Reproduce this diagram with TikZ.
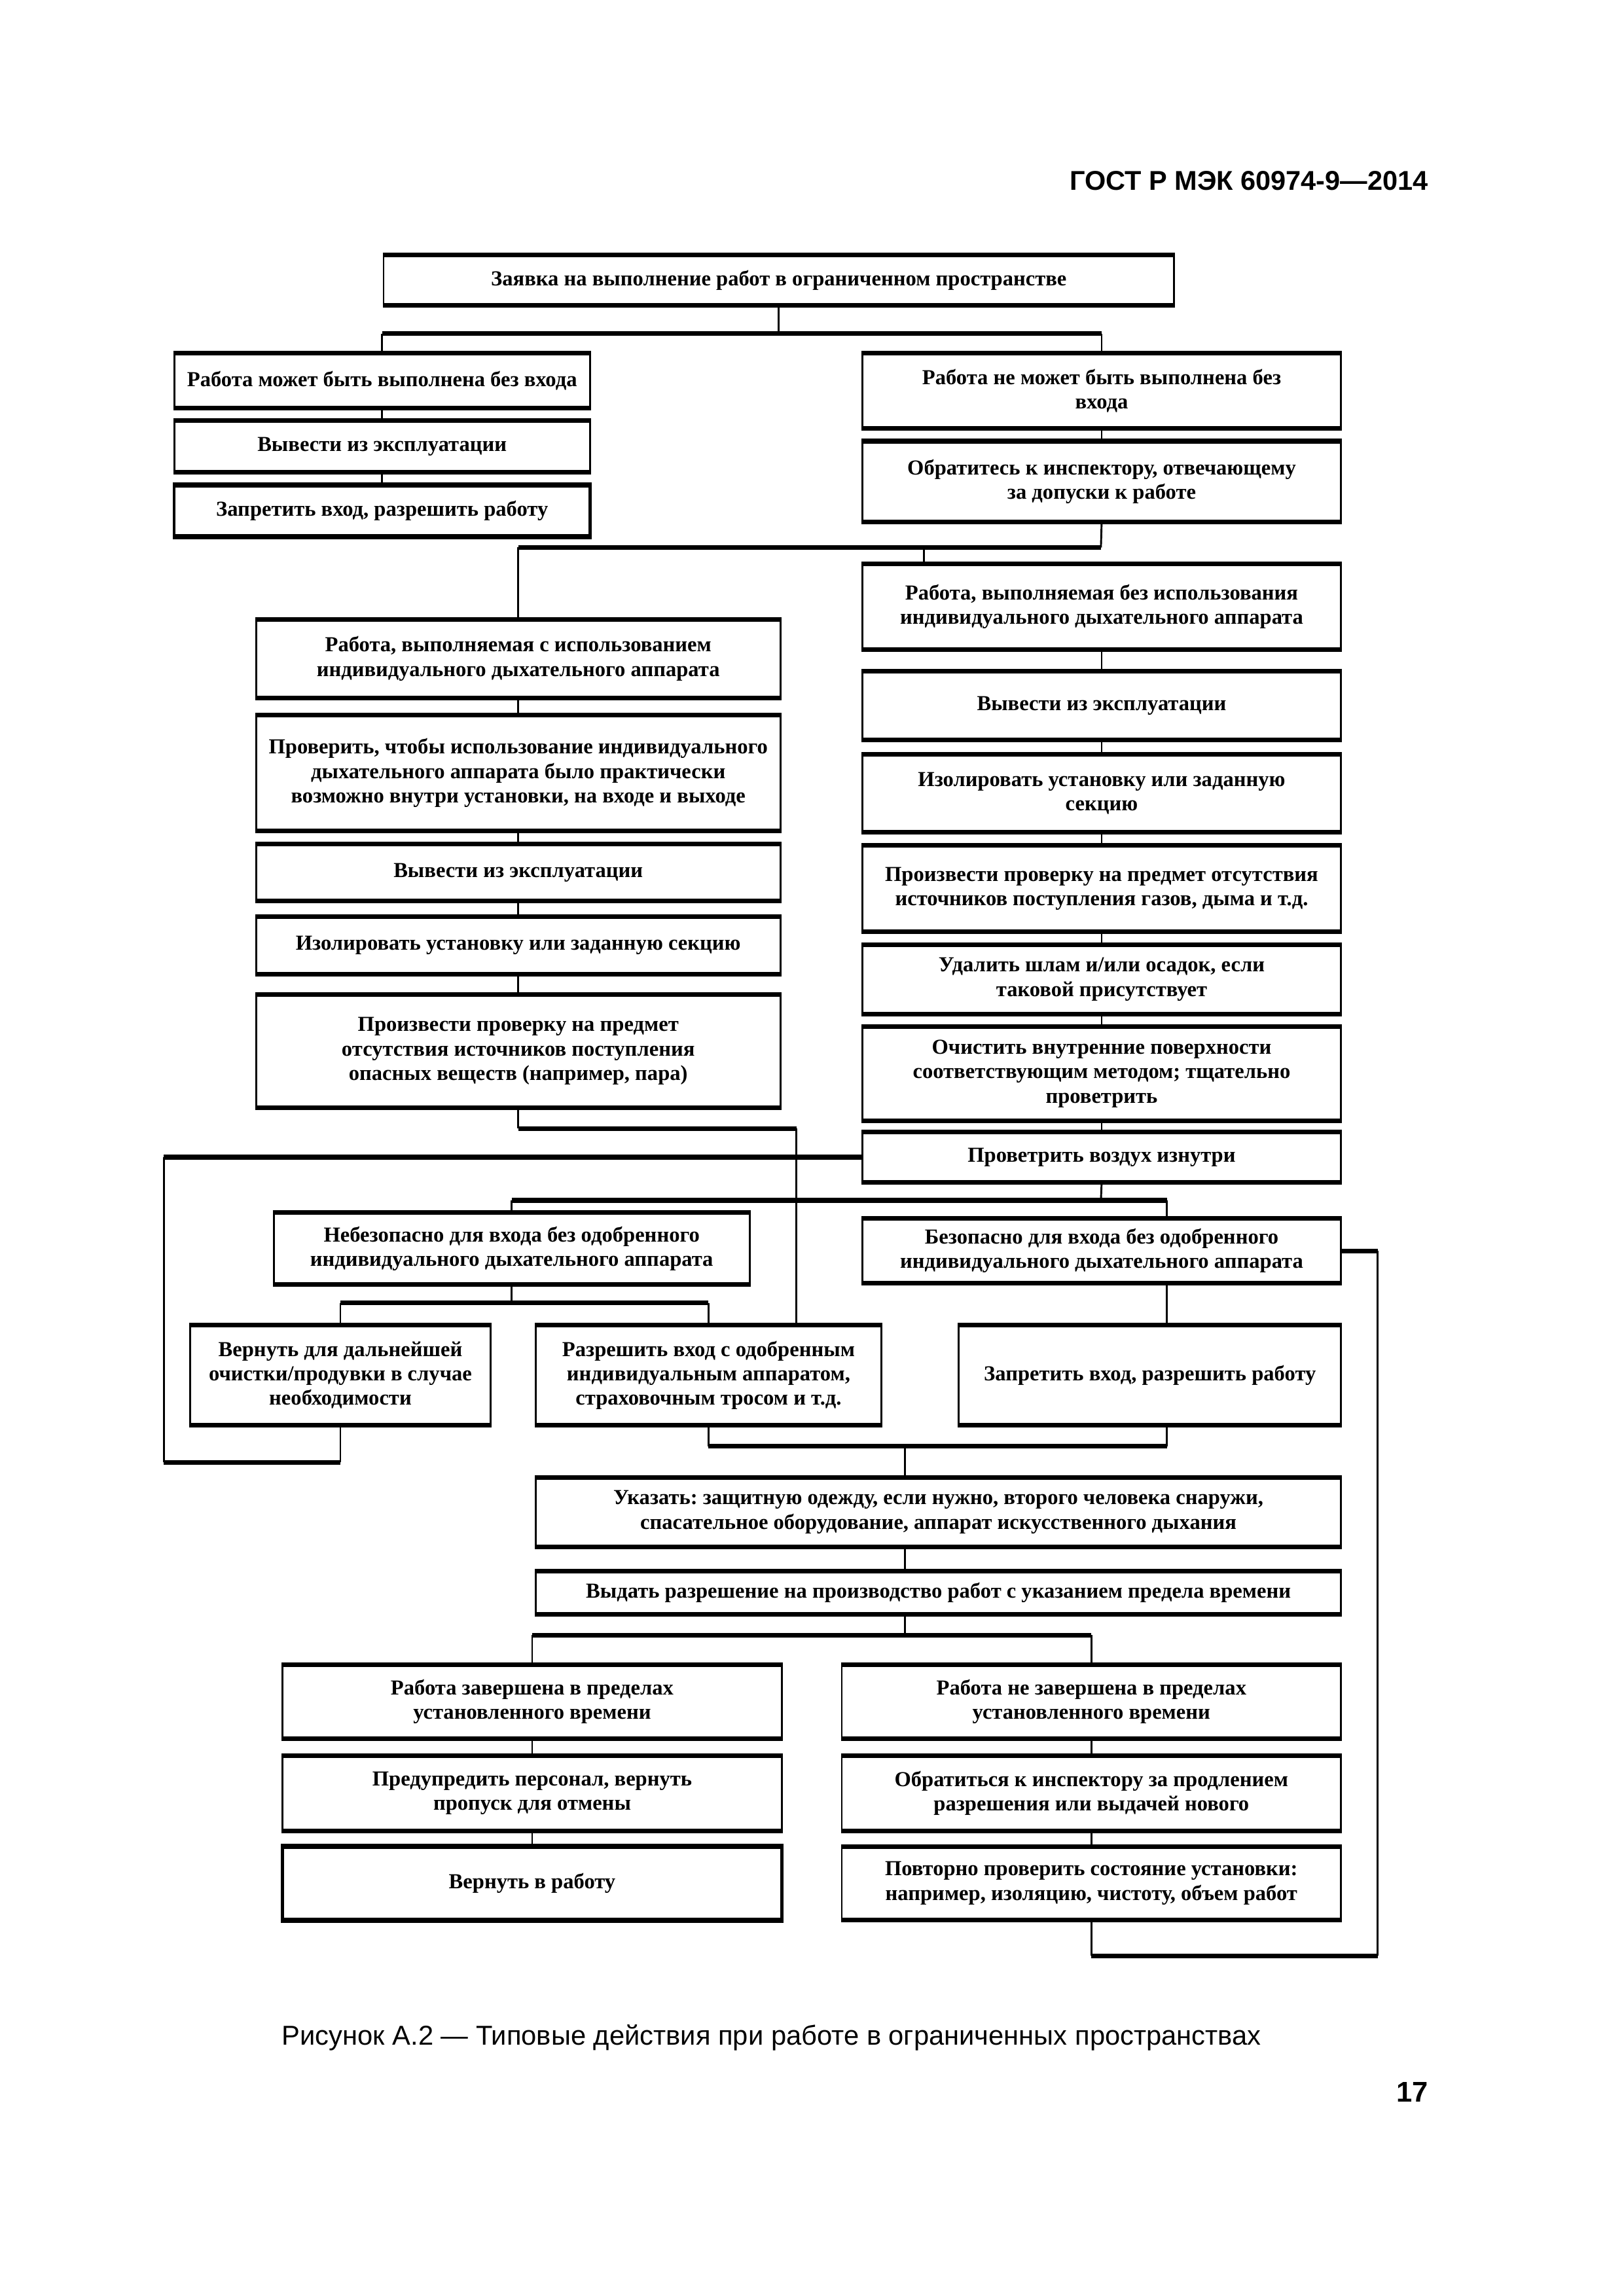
\documentclass[tikz,border=0pt]{standalone}
\usepackage{fontspec}
\setmainfont{Liberation Serif}
\newfontfamily\arialf{Liberation Sans}
\frenchspacing
\tikzset{
  box/.style={draw, line width=0.7pt, align=center, inner sep=0pt,
    font=\bfseries\fontsize{7.85}{9}\selectfont},
  thickbox/.style={line width=1.1pt},
  hl/.style={line width=1.7pt},
  vl/.style={line width=0.7pt},
  edgeh/.style={line width=1.7pt},
}
\newcommand{\bx}[7][]{%
  \node[box,#1, minimum width={(#5-#3)*0.189360mm}, minimum height={(#6-#4)*0.189360mm}]
    (#2) at ({(#3+#5)/2},{(#4+#6)/2}) {#7};
  \draw[edgeh] (#2.north west) -- (#2.north east);
  \draw[edgeh] (#2.south west) -- (#2.south east);}
\begin{document}
\begin{tikzpicture}[x=0.189360mm, y=-0.189360mm]
\useasboundingbox (0,0) rectangle (1109,1568.5);

\node[anchor=base east, font=\arialf\bfseries\fontsize{10}{12}\selectfont] (hdr) at (982,130) {ГОСТ Р МЭК 60974-9—2014};

\bx{top}{262}{175}{802}{208}{Заявка на выполнение работ в ограниченном пространстве}
\bx{L1}{119}{242}{403}{278}{Работа может быть выполнена без входа}
\bx{L2}{119}{288}{403}{322}{Вывести из эксплуатации}
\bx[thickbox]{L3}{119}{332}{403}{366}{Запретить вход, разрешить работу}
\bx{R1}{589}{242}{916}{292}{Работа не может быть выполнена без\\входа}
\bx{R2}{589}{302}{916}{356}{Обратитесь к инспектору, отвечающему\\за допуски к работе}
\bx{B1}{589}{386}{916}{443}{Работа, выполняемая без использования\\индивидуального дыхательного аппарата}
\bx{B2}{589}{459}{916}{505}{Вывести из эксплуатации}
\bx{B3}{589}{516}{916}{568}{Изолировать установку или заданную\\секцию}
\bx{B4}{589}{578}{916}{636}{Произвести проверку на предмет отсутствия\\источников поступления газов, дыма и т.д.}
\bx{B5}{589}{646}{916}{692}{Удалить шлам и/или осадок, если\\таковой присутствует}
\bx{B6}{589}{702}{916}{765}{Очистить внутренние поверхности\\соответствующим методом; тщательно\\проветрить}
\bx{B7}{589}{774}{916}{807}{Проветрить воздух изнутри}
\bx{A1}{175}{424}{533}{476}{Работа, выполняемая с использованием\\индивидуального дыхательного аппарата}
\bx{A2}{175}{489}{533}{567}{Проверить, чтобы использование индивидуального\\дыхательного аппарата было практически\\возможно внутри установки, на входе и выходе}
\bx{A3}{175}{577}{533}{615}{Вывести из эксплуатации}
\bx{A4}{175}{627}{533}{665}{Изолировать установку или заданную секцию}
\bx{A5}{175}{680}{533}{756}{Произвести проверку на предмет\\отсутствия источников поступления\\опасных веществ (например, пара)}
\bx{D1}{187}{829}{512}{877}{Небезопасно для входа без одобренного\\индивидуального дыхательного аппарата}
\bx{D2}{589}{833}{916}{876}{Безопасно для входа без одобренного\\индивидуального дыхательного аппарата}
\bx{C1}{130}{906}{335}{973}{Вернуть для дальнейшей\\очистки/продувки в случае\\необходимости}
\bx{C2}{366}{906}{602}{973}{Разрешить вход с одобренным\\индивидуальным аппаратом,\\страховочным тросом и т.д.}
\bx{C3}{655}{906}{916}{973}{Запретить вход, разрешить работу}
\bx{E1}{366}{1010}{916}{1056}{Указать: защитную одежду, если нужно, второго человека снаружи,\\спасательное оборудование, аппарат искусственного дыхания}
\bx{E2}{366}{1074}{916}{1102}{Выдать разрешение на производство работ с указанием предела времени}
\bx{F1}{193}{1138}{534}{1187}{Работа завершена в пределах\\установленного времени}
\bx{F2}{193}{1200}{534}{1250}{Предупредить персонал, вернуть\\пропуск для отмены}
\bx[thickbox]{F3}{193}{1262}{534}{1311}{Вернуть в работу}
\bx{G1}{575}{1138}{916}{1187}{Работа не завершена в пределах\\установленного времени}
\bx{G2}{575}{1200}{916}{1250}{Обратиться к инспектору за продлением\\разрешения или выдачей нового}
\bx{G3}{575}{1262}{916}{1311}{Повторно проверить состояние установки:\\например, изоляцию, чистоту, объем работ}

% top split
\coordinate (j1) at (532,228);
\draw[vl] (top.south) -- (j1);
\draw[hl] (L1.north |- j1) -- (R1.north |- j1);
\draw[vl] (L1.north |- j1) -- (L1.north);
\draw[vl] (R1.north |- j1) -- (R1.north);
\draw[vl] (L1) -- (L2);
\draw[vl] (L2) -- (L3);
\draw[vl] (R1) -- (R2);

% second split
\coordinate (j2) at (752,374);
\coordinate (b1in) at (631,386);
\draw[vl] (R2.south) -- (j2);
\draw[hl] (A1.north |- j2) -- (j2);
\draw[vl] (A1.north |- j2) -- (A1.north);
\draw[vl] (b1in |- j2) -- (b1in);

% columns
\draw[vl] (B1) -- (B2);
\draw[vl] (B2) -- (B3);
\draw[vl] (B3) -- (B4);
\draw[vl] (B4) -- (B5);
\draw[vl] (B5) -- (B6);
\draw[vl] (B6) -- (B7);
\draw[vl] (A1) -- (A2);
\draw[vl] (A2) -- (A3);
\draw[vl] (A3) -- (A4);
\draw[vl] (A4) -- (A5);

% A5 -> C2
\coordinate (k1) at (544,771);
\draw[vl] (A5.south) -- (A5.south |- k1);
\draw[hl] (A5.south |- k1) -- (k1);
\draw[vl] (k1) -- (k1 |- C2.north);

% loop C1 -> B7
\coordinate (m1) at (112,999);
\draw[vl] (C1.south) -- (C1.south |- m1);
\draw[hl] (C1.south |- m1) -- (m1);
\draw[vl] (m1) -- (m1 |- B7.west);
\draw[hl] (m1 |- B7.west) -- (B7.west);

% D split
\coordinate (j3) at (752,820);
\coordinate (d2in) at (797,833);
\draw[vl] (B7.south) -- (j3);
\draw[hl] (D1.north |- j3) -- (d2in |- j3);
\draw[vl] (D1.north |- j3) -- (D1.north);
\draw[vl] (d2in |- j3) -- (d2in);

% C split
\coordinate (j4) at (349,890);
\draw[vl] (D1.south) -- (D1.south |- j4);
\draw[hl] (C1.north |- j4) -- (C2.north |- j4);
\draw[vl] (C1.north |- j4) -- (C1.north);
\draw[vl] (C2.north |- j4) -- (C2.north);
\draw[vl] (d2in |- D2.south) -- (d2in |- C3.north);

% E join
\coordinate (j5) at (618,988);
\draw[vl] (C2.south) -- (C2.south |- j5);
\draw[vl] (d2in |- C3.south) -- (d2in |- j5);
\draw[hl] (C2.south |- j5) -- (d2in |- j5);
\draw[vl] (j5) -- (j5 |- E1.north);
\draw[vl] (j5 |- E1.south) -- (j5 |- E2.north);

% F/G split
\coordinate (j6) at (618,1117);
\draw[vl] (j5 |- E2.south) -- (j6);
\draw[hl] (F1.north |- j6) -- (G1.north |- j6);
\draw[vl] (F1.north |- j6) -- (F1.north);
\draw[vl] (G1.north |- j6) -- (G1.north);
\draw[vl] (F1) -- (F2);
\draw[vl] (F2) -- (F3);
\draw[vl] (G1) -- (G2);
\draw[vl] (G2) -- (G3);

% loop G3 -> D2
\coordinate (n1) at (941,1336);
\draw[hl] (D2.east) -- (D2.east -| n1);
\draw[vl] (D2.east -| n1) -- (n1);
\draw[hl] (n1) -- (n1 -| G3.south);
\draw[vl] (n1 -| G3.south) -- (G3.south);

\node[anchor=base west, font=\arialf\fontsize{10.05}{12}\selectfont] (cap) at (186,1397) {Рисунок А.2 — Типовые действия при работе в ограниченных пространствах};
\node[anchor=base east, font=\arialf\bfseries\fontsize{10.5}{12}\selectfont] (pg) at (982,1436) {17};
\end{tikzpicture}
\end{document}
